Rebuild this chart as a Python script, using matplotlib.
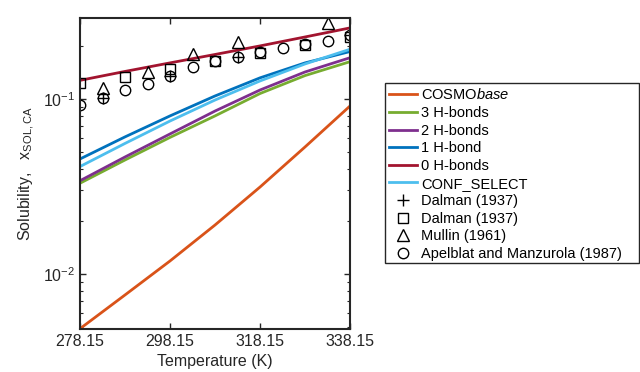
import numpy as np
import matplotlib
matplotlib.use("Agg")
import matplotlib.pyplot as plt
from matplotlib.patches import Rectangle

plt.rcParams.update({
    "font.family": "Liberation Sans",
    "font.size": 11.5,
    "mathtext.fontset": "custom",
    "mathtext.rm": "Liberation Sans",
    "mathtext.it": "Liberation Sans:italic",
    "mathtext.bf": "Liberation Sans:bold",
})

# ── model curves (temperature in K, mole fraction solubility) ──
T_model = [278.15, 288.15, 298.15, 308.15, 318.15, 328.15, 338.15]
cosmo_base = [0.00487, 0.00759, 0.01187, 0.01905, 0.0314, 0.0532, 0.0912]
hb3 = [0.0330, 0.0448, 0.0603, 0.0800, 0.1074, 0.1360, 0.1633]
hb2 = [0.0341, 0.0466, 0.0631, 0.0853, 0.1125, 0.1426, 0.1720]
hb1 = [0.0454, 0.0607, 0.0800, 0.1040, 0.1320, 0.1607, 0.1866]
hb0 = [0.1277, 0.1436, 0.1607, 0.1795, 0.2009, 0.2260, 0.2546]
conf_select = [0.0411, 0.0557, 0.0748, 0.0986, 0.1267, 0.1585, 0.1923]

# ── experimental data ──
T_dalman_plus = [283.15, 298.15, 313.15, 338.15]
x_dalman_plus = [0.101, 0.135, 0.174, 0.232]

T_dalman_sq = [278.15, 288.15, 298.15, 308.15, 318.15, 328.15, 338.15]
x_dalman_sq = [0.123, 0.134, 0.148, 0.165, 0.183, 0.204, 0.226]

T_mullin = [283.15, 293.15, 303.15, 313.15, 333.15]
x_mullin = [0.1156, 0.1426, 0.181, 0.212, 0.272]

T_apel = [278.15, 283.15, 288.15, 293.15, 298.15, 303.15, 308.15,
          313.15, 318.15, 323.15, 328.15, 333.15, 338.15]
x_apel = [0.0925, 0.1014, 0.1124, 0.122, 0.135, 0.152, 0.165,
          0.174, 0.186, 0.195, 0.206, 0.214, 0.232]

x_ticks = [278.15, 298.15, 318.15, 338.15]

fig = plt.figure(figsize=(6.4, 3.72), dpi=100)
ax = fig.add_axes([0.125, 0.1156, 0.422, 0.836])

lw = 2.0
ax.plot(T_model, cosmo_base, color="#D95319", lw=lw, label="COSMO$\\mathit{base}$")
ax.plot(T_model, hb3, color="#77AC30", lw=lw, label="3 H-bonds")
ax.plot(T_model, hb2, color="#7E2F8E", lw=lw, label="2 H-bonds")
ax.plot(T_model, hb1, color="#0072BD", lw=lw, label="1 H-bond")
ax.plot(T_model, hb0, color="#A2142F", lw=lw, label="0 H-bonds")
ax.plot(T_model, conf_select, color="#4DBEEE", lw=lw, label="CONF_SELECT")

mk = dict(linestyle="none", mfc="none", mec="black", mew=1.0)
ax.plot(T_dalman_plus, x_dalman_plus, marker="+", ms=8, label="Dalman (1937)", **mk)
ax.plot(T_dalman_sq, x_dalman_sq, marker="s", ms=7, label="Dalman (1937)", **mk)
ax.plot(T_mullin, x_mullin, marker="^", ms=8, label="Mullin (1961)", **mk)
ax.plot(T_apel, x_apel, marker="o", ms=7.5, label="Apelblat and Manzurola (1987)", **mk)

ax.set_yscale("log")
ax.set_xlim(278.15, 338.15)
ax.set_ylim(0.00485, 0.29)
ax.set_xticks(x_ticks)
ax.set_xticklabels([f"{t:.2f}" for t in x_ticks])
ax.minorticks_on()
ax.xaxis.set_minor_locator(matplotlib.ticker.NullLocator())

ax.tick_params(which="both", direction="in", top=True, right=True,
               colors="#262626", labelcolor="#262626")
ax.tick_params(which="major", length=4, width=1.0)
ax.tick_params(which="minor", length=2.5, width=0.8)
for s in ax.spines.values():
    s.set_color("#262626")
    s.set_linewidth(1.5)

ax.set_xlabel("Temperature (K)", color="#262626")
ax.set_ylabel("Solubility,   x$_{\\mathrm{SOL,CA}}$", color="#262626")

# legend box drawn separately (MATLAB-style wide frame)
fig.patches.append(Rectangle((385 / 640, 1 - 263 / 372), 254 / 640, 180 / 372,
                             transform=fig.transFigure, fill=False,
                             edgecolor="#262626", lw=1.0))
leg = ax.legend(loc="upper left", bbox_to_anchor=(0.6016, 0.777),
                bbox_transform=fig.transFigure, fontsize=10.5,
                frameon=False, handlelength=1.9, handletextpad=0.3,
                labelspacing=0.25, borderpad=0.3, borderaxespad=0)

fig.savefig("out.png", dpi=100)
